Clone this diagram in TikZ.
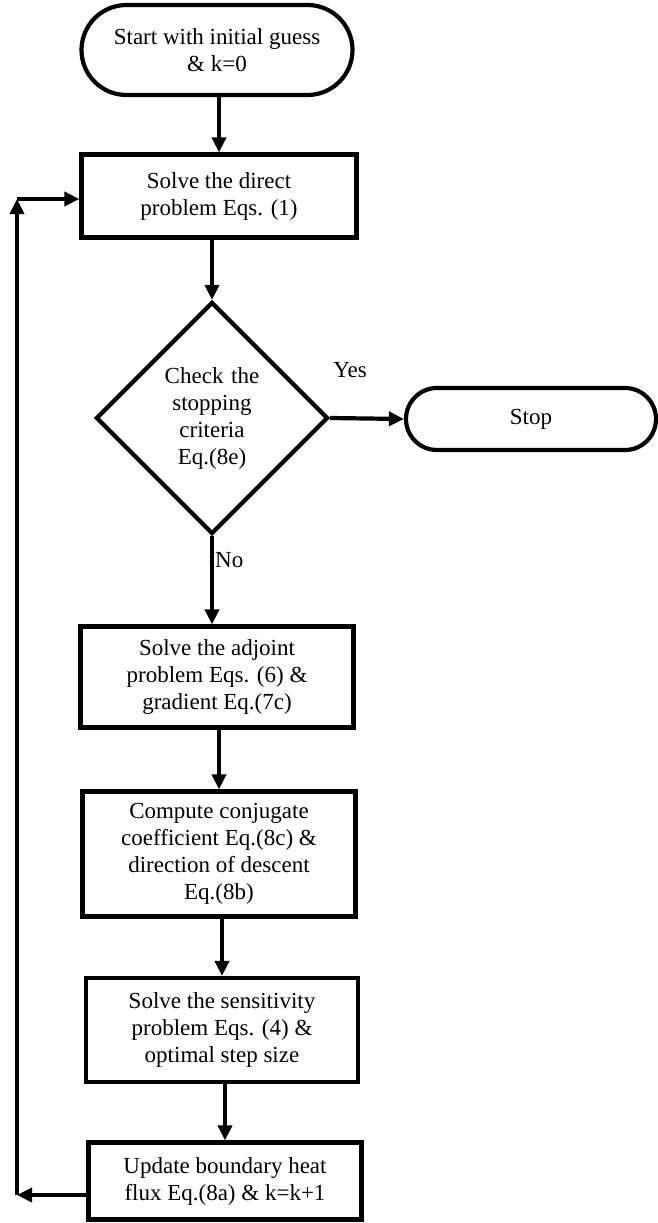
\documentclass[tikz,border=0pt]{standalone}
\usepackage{fontspec}
\setmainfont{Liberation Serif}
\usetikzlibrary{shapes.geometric,arrows.meta}
\tikzset{
  base/.style={draw=black, line width=4.2pt, align=center, inner sep=2pt,
    font=\fontsize{23}{27}\selectfont},
  procbox/.style={base, rectangle, minimum width=273pt},
  term/.style={base, rectangle, rounded corners=30pt},
  decide/.style={base, diamond, minimum width=214pt, minimum height=232pt, inner sep=0pt, text width=130pt},
  arr/.style={line width=4.2pt, -{Triangle[length=15pt,width=14pt]}},
  lbl/.style={font=\fontsize{23}{27}\selectfont}
}
\begin{document}
\begin{tikzpicture}[x=1pt,y=-1pt]
\useasboundingbox (0,0) rectangle (658,1223);
\node[term, minimum width=271pt, minimum height=90pt, rounded corners=45pt] (start) at (217,50) {Start with initial guess\\ \& k=0};
\node[procbox, minimum width=275pt, minimum height=83pt] (direct) at (219,196) {Solve the direct\\problem Eqs. (1)};
\node[decide] (dia) at (212,418) {Check the\\stopping\\criteria\\Eq.(8e)};
\node[term, minimum width=250pt, minimum height=62pt, rounded corners=31pt] (stop) at (531,419) {Stop};
\node[procbox, minimum height=101pt] (adj) at (217,677) {Solve the adjoint\\problem Eqs. (6) \&\\gradient Eq.(7c)};
\node[procbox, minimum height=125pt] (conj) at (219,854) {Compute conjugate\\coefficient Eq.(8c) \&\\direction of descent\\Eq.(8b)};
\node[procbox, minimum height=104pt, minimum width=272pt] (sens) at (222,1030) {Solve the sensitivity\\problem Eqs. (4) \&\\optimal step size};
\node[procbox, minimum height=77pt] (upd) at (225,1181) {Update boundary heat\\flux Eq.(8a) \& k=k+1};

\node[lbl] (yes) at (350,370) {Yes};
\node[lbl, anchor=west, inner sep=1pt] (no) at (214,560) {No};

\draw[arr] (start.south -| direct.north) -- (direct.north);
\draw[arr] (direct.south -| dia.north) -- (dia.north);
\draw[arr] (dia.east) -- (stop.west);
\draw[arr] (dia.south) -- (dia.south |- adj.north);
\draw[arr] (adj.south -| conj.north) -- (conj.north);
\draw[arr] (conj.south -| sens.north) -- (sens.north);
\draw[arr] (sens.south -| upd.north) -- (upd.north);

\coordinate (lb) at (17,1195);
\coordinate (lt) at (17,199);
\draw[arr] (upd.west |- lb) -- (lb);
\draw[arr] (lb) -- (lt);
\draw[arr] (lt) -- (direct.west |- lt);
\end{tikzpicture}
\end{document}
